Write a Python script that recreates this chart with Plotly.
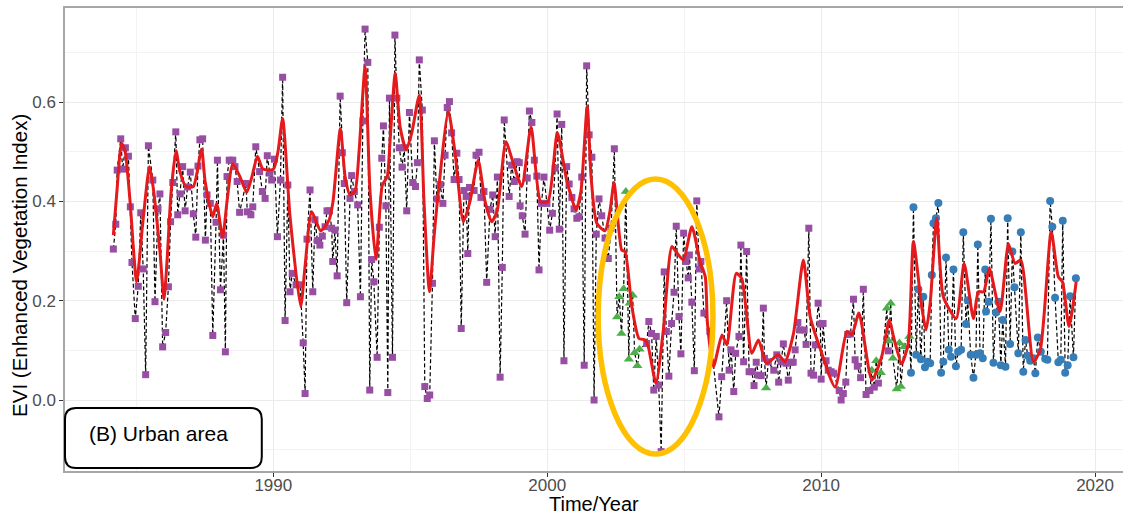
import plotly.graph_objects as go

# ---- EVI observations by sensor (decimal year, EVI) ----
tm_year = [
    1984.16, 1984.25, 1984.30, 1984.43, 1984.50, 1984.60, 1984.71, 1984.78, 1984.84, 1984.96,
    1985.07, 1985.16, 1985.25, 1985.34, 1985.44, 1985.60, 1985.68, 1985.79, 1985.86, 1985.96,
    1986.07, 1986.17, 1986.25, 1986.33, 1986.44, 1986.51, 1986.60, 1986.69, 1986.78, 1986.87,
    1986.97, 1987.08, 1987.17, 1987.25, 1987.32, 1987.42, 1987.52, 1987.58, 1987.70, 1987.79,
    1987.91, 1987.96, 1988.07, 1988.18, 1988.25, 1988.31, 1988.39, 1988.52, 1988.60, 1988.68,
    1988.77, 1989.00, 1989.05, 1989.18, 1989.25, 1989.36, 1989.50, 1989.60, 1989.70, 1989.78,
    1989.87, 1989.94, 1990.04, 1990.15, 1990.26, 1990.34, 1990.43, 1990.53, 1990.61, 1990.69,
    1990.83, 1990.98, 1991.09, 1991.16, 1991.23, 1991.34, 1991.44, 1991.52, 1991.61, 1991.70,
    1991.79, 1991.89, 1991.96, 1992.05, 1992.13, 1992.17, 1992.25, 1992.33, 1992.44, 1992.52,
    1992.59, 1992.68, 1992.80, 1992.86, 1992.96, 1993.08, 1993.18, 1993.27, 1993.35, 1993.45,
    1993.52, 1993.59, 1993.67, 1993.79, 1993.87, 1993.96, 1994.02, 1994.11, 1994.18, 1994.24,
    1994.35, 1994.44, 1994.51, 1994.60, 1994.70, 1994.78, 1994.87, 1994.97, 1995.09, 1995.19,
    1995.26, 1995.33, 1995.44, 1995.53, 1995.62, 1995.71, 1995.81, 1995.88, 1995.97, 1996.09,
    1996.19, 1996.27, 1996.35, 1996.43, 1996.51, 1996.60, 1996.70, 1996.78, 1996.86, 1996.96,
    1997.04, 1997.10, 1997.16, 1997.33, 1997.40, 1997.51, 1997.58, 1997.69, 1997.79, 1997.91,
    1998.01, 1998.10, 1998.18, 1998.28, 1998.36, 1998.43, 1998.61, 1998.70, 1998.80, 1998.90,
    1998.98, 1999.01, 1999.09, 1999.19, 1999.27, 1999.35, 1999.44, 1999.53, 1999.62, 1999.70,
    1999.79, 1999.88, 1999.99, 2000.09, 2000.19, 2000.29, 2000.36, 2000.44, 2000.53, 2000.61,
    2000.71, 2000.80, 2000.90, 2000.98, 2001.08, 2001.16, 2001.26, 2001.35, 2001.44, 2001.53,
    2001.63, 2001.71, 2001.79, 2001.89, 2001.99, 2002.11, 2002.23, 2002.33, 2002.45, 2003.63,
    2003.71, 2003.81, 2003.89, 2003.98, 2004.07, 2004.16, 2004.27, 2004.35, 2004.44, 2004.54,
    2004.63, 2004.71, 2004.81, 2004.88, 2004.98, 2005.07, 2005.15, 2005.19, 2005.28, 2005.37,
    2005.46, 2005.55, 2005.61, 2005.72, 2005.94, 2006.27, 2006.37, 2006.55, 2006.64, 2006.71,
    2006.81, 2006.88, 2007.00, 2007.07, 2007.17, 2007.28, 2007.37, 2007.47, 2007.55, 2007.63,
    2007.72, 2007.81, 2007.89, 2007.93, 2008.07, 2008.27, 2008.38, 2008.45, 2008.54, 2008.62,
    2008.72, 2008.80, 2008.90, 2008.98, 2009.05, 2009.15, 2009.22, 2009.38, 2009.45, 2009.55,
    2009.63, 2009.72, 2009.79, 2009.89, 2009.97, 2010.00, 2010.07, 2010.18, 2010.26, 2010.36,
    2010.45, 2010.66, 2010.73, 2010.81, 2010.90, 2010.97, 2011.07, 2011.18, 2011.24, 2011.32,
    2011.44, 2011.54, 2011.64, 2011.78, 2011.94, 2012.09, 2012.45,
]
tm_evi = [
    0.304, 0.354, 0.463, 0.526, 0.465, 0.508, 0.491, 0.389, 0.277, 0.164,
    0.229, 0.377, 0.264, 0.051, 0.512, 0.443, 0.198, 0.385, 0.415, 0.107,
    0.136, 0.228, 0.359, 0.438, 0.540, 0.373, 0.415, 0.470, 0.381, 0.429,
    0.459, 0.375, 0.328, 0.471, 0.524, 0.526, 0.322, 0.413, 0.396, 0.130,
    0.358, 0.483, 0.222, 0.332, 0.097, 0.450, 0.483, 0.483, 0.470, 0.440,
    0.378, 0.436, 0.379, 0.373, 0.389, 0.510, 0.460, 0.420, 0.406, 0.492,
    0.457, 0.443, 0.485, 0.329, 0.443, 0.650, 0.160, 0.433, 0.218, 0.255,
    0.232, 0.232, 0.115, 0.013, 0.324, 0.423, 0.218, 0.363, 0.321, 0.312,
    0.330, 0.349, 0.381, 0.381, 0.346, 0.279, 0.342, 0.250, 0.612, 0.498,
    0.436, 0.196, 0.406, 0.452, 0.420, 0.393, 0.208, 0.562, 0.747, 0.680,
    0.020, 0.283, 0.238, 0.086, 0.348, 0.487, 0.552, 0.391, 0.015, 0.608,
    0.086, 0.735, 0.608, 0.508, 0.469, 0.508, 0.381, 0.579, 0.438, 0.430,
    0.478, 0.685, 0.584, 0.027, 0.003, 0.010, 0.235, 0.522, 0.405, 0.434,
    0.396, 0.493, 0.589, 0.601, 0.538, 0.444, 0.497, 0.444, 0.144, 0.422,
    0.410, 0.295, 0.428, 0.422, 0.493, 0.499, 0.408, 0.420, 0.237, 0.384,
    0.413, 0.329, 0.449, 0.046, 0.267, 0.564, 0.410, 0.473, 0.440, 0.480,
    0.478, 0.391, 0.371, 0.334, 0.447, 0.582, 0.559, 0.483, 0.451, 0.262,
    0.396, 0.449, 0.396, 0.342, 0.376, 0.467, 0.576, 0.344, 0.555, 0.079,
    0.470, 0.435, 0.408, 0.385, 0.366, 0.369, 0.449, 0.070, 0.673, 0.534,
    0.489, 0.000, 0.334, 0.405, 0.371, 0.326, 0.285, 0.346, 0.506, 0.114,
    0.158, 0.134, 0.020, 0.128, 0.030, -0.104, 0.258, 0.138, 0.048, 0.154,
    0.217, 0.350, 0.168, 0.093, 0.336, 0.279, 0.246, 0.292, 0.197, 0.059,
    0.401, 0.264, 0.279, 0.175, 0.138, -0.034, 0.047, 0.200, 0.060, 0.101,
    0.017, 0.094, 0.128, 0.312, 0.077, 0.299, 0.057, 0.057, 0.029, 0.076,
    0.050, 0.049, 0.185, 0.084, 0.077, 0.060, 0.091, 0.036, 0.077, 0.113,
    0.074, 0.040, 0.076, 0.076, 0.101, 0.156, 0.141, 0.141, 0.112, 0.346,
    0.054, 0.050, 0.111, 0.195, 0.153, 0.042, 0.154, 0.079, 0.060, 0.057,
    0.054, 0.019, 0.000, 0.013, 0.036, 0.132, 0.133, 0.203, 0.081, 0.068,
    0.045, 0.223, 0.011, 0.019, 0.026, 0.034, 0.099,
]

etm_year = [
    2002.55, 2002.63, 2002.71, 2002.79, 2002.87, 2002.98, 2003.01, 2003.12, 2003.19, 2003.29,
    2003.37, 2007.99, 2011.85, 2012.01, 2012.18, 2012.40, 2012.46, 2012.54, 2012.62, 2012.76,
    2012.86, 2012.91, 2013.03, 2013.22,
]
etm_evi = [
    0.167, 0.208, 0.134, 0.224, 0.420, 0.082, 0.195, 0.211, 0.095, 0.069,
    0.102, 0.024, 0.060, 0.079, 0.055, 0.185, 0.119, 0.195, 0.084, 0.022,
    0.115, 0.027, 0.107, 0.128,
]

oli_year = [
    2013.28, 2013.37, 2013.47, 2013.55, 2013.64, 2013.73, 2013.79, 2013.89, 2013.98, 2014.04,
    2014.10, 2014.19, 2014.28, 2014.38, 2014.46, 2014.56, 2014.66, 2014.74, 2014.83, 2014.92,
    2015.00, 2015.11, 2015.19, 2015.29, 2015.35, 2015.46, 2015.56, 2015.65, 2015.72, 2015.80,
    2015.90, 2015.99, 2016.02, 2016.12, 2016.20, 2016.29, 2016.38, 2016.47, 2016.56, 2016.63,
    2016.73, 2016.81, 2016.90, 2016.98, 2017.06, 2017.20, 2017.29, 2017.38, 2017.46, 2017.54,
    2017.63, 2017.75, 2017.82, 2017.91, 2018.02, 2018.18, 2018.26, 2018.36, 2018.44, 2018.54,
    2018.66, 2018.75, 2018.82, 2018.91, 2019.00, 2019.09, 2019.21, 2019.30,
]
oli_evi = [
    0.055, 0.388, 0.091, 0.223, 0.082, 0.208, 0.066, 0.077, 0.074, 0.252,
    0.356, 0.366, 0.397, 0.055, 0.077, 0.287, 0.101, 0.087, 0.263, 0.068,
    0.097, 0.101, 0.338, 0.153, 0.201, 0.091, 0.045, 0.091, 0.313, 0.094,
    0.084, 0.263, 0.178, 0.198, 0.365, 0.075, 0.176, 0.198, 0.070, 0.161,
    0.067, 0.366, 0.113, 0.299, 0.227, 0.094, 0.338, 0.057, 0.121, 0.089,
    0.079, 0.084, 0.054, 0.126, 0.097, 0.083, 0.081, 0.401, 0.349, 0.206,
    0.076, 0.081, 0.361, 0.055, 0.070, 0.209, 0.086, 0.245,
]

# ---- smoothed EVI trend ----
trend_year = [
    1984.16, 1984.29, 1984.46, 1984.59, 1984.77, 1985.01, 1985.24, 1985.48, 1985.61, 1985.86,
    1986.01, 1986.12, 1986.27, 1986.45, 1986.59, 1986.81, 1987.08, 1987.38, 1987.51, 1987.79,
    1987.93, 1988.15, 1988.31, 1988.52, 1988.78, 1989.03, 1989.22, 1989.42, 1989.62, 1990.00,
    1990.17, 1990.34, 1990.61, 1991.00, 1991.16, 1991.40, 1991.73, 1992.04, 1992.18, 1992.45,
    1992.62, 1992.80, 1992.98, 1993.13, 1993.35, 1993.53, 1993.75, 1993.98, 1994.16, 1994.26,
    1994.45, 1994.63, 1994.85, 1995.05, 1995.33, 1995.50, 1995.70, 1995.87, 1996.02, 1996.39,
    1996.63, 1996.94, 1997.18, 1997.48, 1997.73, 1997.97, 1998.17, 1998.49, 1998.76, 1999.07,
    1999.41, 1999.76, 2000.03, 2000.37, 2000.71, 2001.05, 2001.23, 2001.46, 2001.60, 2001.81,
    2002.11, 2002.29, 2002.44, 2002.72, 2002.84, 2003.09, 2003.35, 2003.57, 2003.69, 2003.97,
    2004.24, 2004.55, 2004.75, 2004.97, 2005.28, 2005.58, 2005.77, 2005.85, 2006.07, 2006.38,
    2006.56, 2006.90, 2007.10, 2007.47, 2007.71, 2008.01, 2008.44, 2008.68, 2008.99, 2009.35,
    2009.60, 2009.96, 2010.51, 2010.94, 2011.12, 2011.38, 2011.85, 2012.21, 2012.49, 2012.64,
    2012.94, 2013.18, 2013.37, 2013.67, 2013.83, 2013.98, 2014.22, 2014.46, 2014.93, 2015.22,
    2015.56, 2015.74, 2015.93, 2016.14, 2016.53, 2016.84, 2017.08, 2017.29, 2017.75, 2018.00,
    2018.40, 2018.66, 2018.81, 2019.05, 2019.31,
]
trend_evi = [
    0.332, 0.420, 0.517, 0.500, 0.400, 0.238, 0.360, 0.470, 0.430, 0.300,
    0.203, 0.280, 0.420, 0.502, 0.460, 0.430, 0.430, 0.505, 0.440, 0.369,
    0.396, 0.328, 0.400, 0.476, 0.450, 0.418, 0.450, 0.491, 0.465, 0.465,
    0.500, 0.567, 0.370, 0.188, 0.270, 0.379, 0.341, 0.363, 0.400, 0.547,
    0.450, 0.413, 0.420, 0.500, 0.671, 0.420, 0.283, 0.433, 0.450, 0.520,
    0.658, 0.550, 0.504, 0.537, 0.614, 0.400, 0.218, 0.330, 0.416, 0.581,
    0.500, 0.359, 0.400, 0.483, 0.400, 0.359, 0.380, 0.520, 0.477, 0.430,
    0.550, 0.399, 0.400, 0.538, 0.443, 0.383, 0.420, 0.591, 0.450, 0.356,
    0.341, 0.380, 0.438, 0.302, 0.299, 0.188, 0.124, 0.121, 0.107, 0.034,
    0.141, 0.309, 0.295, 0.282, 0.349, 0.279, 0.248, 0.154, 0.067, 0.131,
    0.111, 0.255, 0.245, 0.094, 0.121, 0.074, 0.091, 0.077, 0.134, 0.282,
    0.168, 0.104, 0.026, 0.138, 0.131, 0.175, 0.040, 0.087, 0.161, 0.128,
    0.073, 0.114, 0.319, 0.188, 0.141, 0.195, 0.366, 0.208, 0.164, 0.275,
    0.164, 0.218, 0.218, 0.265, 0.178, 0.314, 0.275, 0.282, 0.077, 0.101,
    0.339, 0.248, 0.238, 0.148, 0.238,
]

x_ticks = [1990, 2000, 2010, 2020]
y_ticks = [0.0, 0.2, 0.4, 0.6]
y_tick_text = ["0.0", "0.2", "0.4", "0.6"]

# highlighted period (years, EVI extent of the ring)
ring_years = (2001.86, 2006.05)
ring_evi = (-0.109, 0.445)

FONT = "Liberation Sans, Arial, sans-serif"

# all observations joined in time order by the dashed connector
obs = sorted(zip(tm_year + etm_year + oli_year, tm_evi + etm_evi + oli_evi))
all_year = [p[0] for p in obs]
all_evi = [p[1] for p in obs]

fig = go.Figure()
fig.add_trace(go.Scatter(
    x=all_year, y=all_evi, mode="lines",
    line=dict(color="black", width=1.2, dash="4px,2.5px"),
    showlegend=False, hoverinfo="skip",
))
fig.add_trace(go.Scatter(
    x=tm_year, y=tm_evi, mode="markers", name="Landsat 5 TM",
    marker=dict(symbol="square", size=7, color="#984EA3"),
    showlegend=False,
))
fig.add_trace(go.Scatter(
    x=etm_year, y=etm_evi, mode="markers", name="Landsat 7 ETM+",
    marker=dict(symbol="triangle-up", size=9, color="#4DAF4A"),
    showlegend=False,
))
fig.add_trace(go.Scatter(
    x=oli_year, y=oli_evi, mode="markers", name="Landsat 8 OLI",
    marker=dict(symbol="circle", size=8, color="#377EB8"),
    showlegend=False,
))
fig.add_trace(go.Scatter(
    x=trend_year, y=trend_evi, mode="lines", name="Smoothed EVI",
    line=dict(color="#E41A1C", width=3, shape="spline", smoothing=0.6),
    showlegend=False,
))

# ring around the 2002-2006 disturbance
fig.add_shape(
    type="circle", xref="x", yref="y",
    x0=ring_years[0], x1=ring_years[1], y0=ring_evi[0], y1=ring_evi[1],
    line=dict(color="#FFC000", width=5.5), layer="above",
)


def rounded_box(x0, y0, x1, y1, rx, ry):
    return (f"M{x0 + rx},{y0} L{x1 - rx},{y0} Q{x1},{y0} {x1},{y0 + ry} "
            f"L{x1},{y1 - ry} Q{x1},{y1} {x1 - rx},{y1} L{x0 + rx},{y1} "
            f"Q{x0},{y1} {x0},{y1 - ry} L{x0},{y0 + ry} Q{x0},{y0} {x0 + rx},{y0} Z")


fig.add_shape(
    type="path", xref="paper", yref="paper",
    path=rounded_box(0.0, 0.0065, 0.186, 0.136, 0.0104, 0.0238),
    line=dict(color="black", width=2), fillcolor="white", layer="above",
)
fig.add_annotation(
    text="(B) Urban area", xref="paper", yref="paper", x=0.0888, y=0.081,
    showarrow=False, font=dict(family=FONT, size=21, color="black"),
    xanchor="center", yanchor="middle",
)

# axis titles
fig.add_annotation(
    text="Time/Year", xref="paper", yref="paper", x=0.5, y=-0.071,
    showarrow=False, font=dict(family=FONT, size=20, color="black"),
    xanchor="center", yanchor="middle",
)
fig.add_annotation(
    text="EVI (Enhanced Vegetation Index)", xref="paper", yref="paper",
    x=-0.0425, y=0.443, textangle=-90,
    showarrow=False, font=dict(family=FONT, size=20.5, color="black"),
    xanchor="center", yanchor="middle",
)

fig.update_layout(
    width=1123, height=515,
    margin=dict(l=65, r=0, t=8, b=44),
    paper_bgcolor="white", plot_bgcolor="white",
    font=dict(family=FONT),
)
fig.update_xaxes(
    range=[1982.395, 2021.02], tickvals=x_ticks,
    showgrid=True, gridcolor="#EBEBEB", gridwidth=1,
    minor=dict(tickvals=[1985, 1995, 2005, 2015], showgrid=True, gridcolor="#F3F3F3", gridwidth=1),
    ticks="outside", ticklen=4, tickcolor="#333333",
    tickfont=dict(family=FONT, size=17, color="#4D4D4D"),
    ticklabelstandoff=-6,
    showline=True, linecolor="#A6A6A6", linewidth=1.5, mirror=True,
    zeroline=False,
)
fig.update_yaxes(
    range=[-0.143, 0.7895], tickvals=y_ticks, ticktext=y_tick_text,
    showgrid=True, gridcolor="#EBEBEB", gridwidth=1,
    minor=dict(tickvals=[-0.1, 0.1, 0.3, 0.5, 0.7], showgrid=True, gridcolor="#F3F3F3", gridwidth=1),
    ticks="outside", ticklen=4, tickcolor="#333333",
    tickfont=dict(family=FONT, size=17, color="#4D4D4D"),
    showline=True, linecolor="#A6A6A6", linewidth=1.5, mirror=False,
    zeroline=False,
)

fig.write_html("out.html")
